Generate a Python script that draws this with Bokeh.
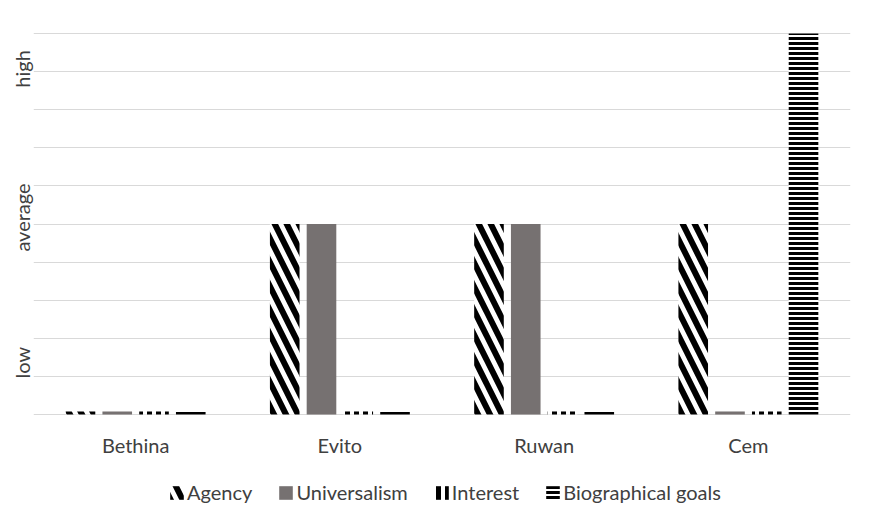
from math import pi
from bokeh.plotting import figure
from bokeh.models import (Range1d, FactorRange, Legend, LegendItem, LinearAxis,
                          FixedTicker, ColumnDataSource, Grid, CustomJSTickFormatter)
from bokeh.core.properties import value
from bokeh.transform import dodge
from bokeh.embed import file_html
from bokeh.resources import INLINE

people = ["Bethina", "Evito", "Ruwan", "Cem"]
agency = [0.08, 5, 5, 5]
universalism = [0.08, 5, 5, 0.08]
interest = [0.08, 0.08, 0.08, 0.08]
bio_goals = [0.08, 0.08, 0.08, 10]
series_names = ["Agency", "Universalism", "Interest", "Biographical goals"]
level_labels = ["low", "average", "high"]
level_positions = [1.36, 5.17, 9.07]
grid_levels = list(range(11))

FONT = "Lato"
FS = "20px"
TXT = "#404040"

src = ColumnDataSource(dict(people=people, agency=agency, universalism=universalism,
                            interest=interest, bio=bio_goals))

# frame extends below the zero line so that category labels and legend sit inside it
p = figure(x_range=FactorRange(*people), y_range=Range1d(-2.65, 10.026),
           frame_width=817, frame_height=483, output_backend="svg", toolbar_location=None,
           x_axis_location=None, y_axis_location=None,
           min_border_left=33, min_border_top=32, min_border_right=20, min_border_bottom=8)
p.outline_line_color = None
p.grid.visible = False
p.add_layout(Grid(dimension=1, ticker=FixedTicker(ticks=grid_levels),
                  grid_line_color="#d9d9d9", grid_line_width=1))

W = 0.145
offs = [-0.27, -0.09, 0.09, 0.27]
r1 = p.vbar(x=dodge("people", offs[0], range=p.x_range), top="agency", width=W, source=src,
            fill_color="white", line_color=None, hatch_pattern="\\", hatch_color="black",
            hatch_scale=24, hatch_weight=6)
r2 = p.vbar(x=dodge("people", offs[1], range=p.x_range), top="universalism", width=W, source=src,
            fill_color="#767171", line_color=None)
r3 = p.vbar(x=dodge("people", offs[2], range=p.x_range), top="interest", width=W, source=src,
            fill_color="white", line_color=None, hatch_pattern="|", hatch_color="black",
            hatch_scale=9, hatch_weight=5)
r4 = p.vbar(x=dodge("people", offs[3], range=p.x_range), top="bio", width=W, source=src,
            fill_color="white", line_color=None, hatch_pattern="-", hatch_color="black",
            hatch_scale=5, hatch_weight=3)

# category labels under the zero line
p.text(x="people", y=-0.79, text="people", source=src, text_align="center",
       text_baseline="middle", text_font=value(FONT), text_font_size=FS, text_color=TXT)

yax = LinearAxis(ticker=FixedTicker(ticks=level_positions),
                 formatter=CustomJSTickFormatter(
                     args=dict(pos=level_positions, labs=level_labels),
                     code="const i = pos.findIndex(v => Math.abs(v - tick) < 1e-6); return i >= 0 ? labs[i] : '';"),
                 axis_label=None,
                 axis_line_color=None, major_tick_line_color=None, minor_tick_line_color=None,
                 major_tick_out=0, major_tick_in=0, major_label_standoff=-1,
                 major_label_orientation="parallel",
                 major_label_text_font=FONT, major_label_text_font_size=FS,
                 major_label_text_color=TXT)
p.add_layout(yax, "left")

legend = Legend(items=[LegendItem(label=n, renderers=[r]) for n, r in
                       zip(series_names, [r1, r2, r3, r4])],
                orientation="horizontal", location=(135, 11),
                glyph_width=17, glyph_height=17, label_standoff=2, spacing=25,
                padding=0, margin=0, border_line_color=None, background_fill_alpha=0,
                label_text_font=FONT, label_text_font_size=FS, label_text_color=TXT)
p.add_layout(legend, "center")

open("out.html", "w").write(file_html(p, INLINE))
